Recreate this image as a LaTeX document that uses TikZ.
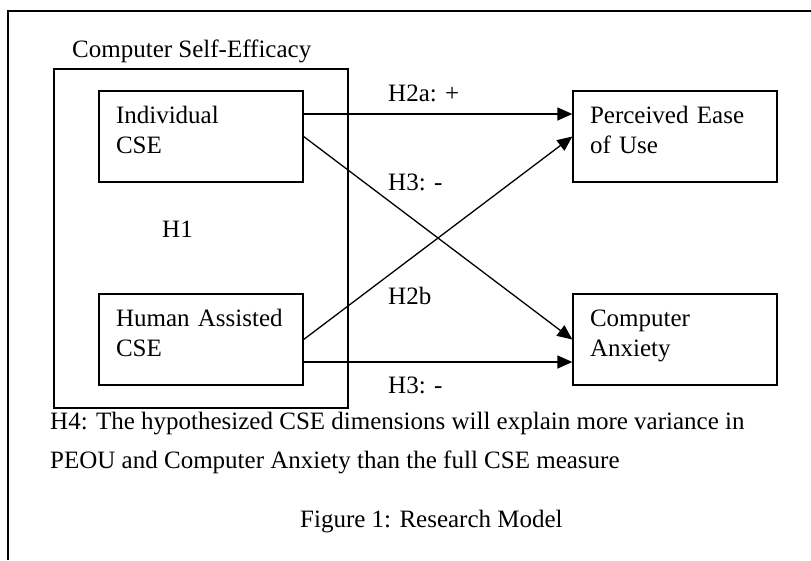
\documentclass[tikz,border=0pt]{standalone}
\usepackage{fontspec}
\setmainfont{Liberation Serif}
\usepackage{tikz}
\usetikzlibrary{positioning,arrows.meta}
\tikzset{
  cbox/.style={draw,line width=1.3pt,minimum width=204pt,minimum height=91pt,
            text width=170pt,inner xsep=17pt,align=left,
            text height=17pt,text depth=43pt,
            font=\fontsize{25}{30}\selectfont},
  group/.style={draw,line width=1.3pt,minimum width=294pt,minimum height=339pt},
  link/.style={-{Triangle[length=15pt,width=13pt]},line width=1.3pt},
  lbl/.style={anchor=base west,inner sep=0pt,font=\fontsize{25}{30}\selectfont},
}
\begin{document}
\begin{tikzpicture}[x=1pt,y=-1pt]
  \useasboundingbox (0,0) rectangle (811,560);
  % outer frame (only top and left edge show)
  \draw[line width=2pt] (7.5,560) -- (7.5,11) -- (811,11);
  % CSE group
  \node[group] (cse) at (201,238.5) {};
  \node[lbl] (csel) at (72,57) {Computer Self-Efficacy};
  \node[cbox] (ind) at (201,136.5) {Individual\\CSE};
  \node[cbox] (hum) at (201,339.5) {Human Assisted\\CSE};
  \node[lbl] (h1) at (162,237) {H1};
  % outcomes
  \node[cbox] (peou) at (675,136.5) {Perceived Ease\\of Use};
  \node[cbox] (anx) at (675,339.5) {Computer\\Anxiety};
  % paths
  \draw[link] ([yshift=22.5pt]ind.east) -- ([yshift=22.5pt]peou.west);
  \draw[link] (ind.east) -- (anx.west);
  \draw[link] (hum.east) -- (peou.west);
  \draw[link] ([yshift=-22.5pt]hum.east) -- ([yshift=-22.5pt]anx.west);
  \node[lbl] (h2a) at (388,101) {H2a: +};
  \node[lbl] (h3a) at (388,190) {H3: -};
  \node[lbl] (h2b) at (388,304) {H2b};
  \node[lbl] (h3b) at (388,393) {H3: -};
  % H4 and caption
  \node[lbl] (h4a) at (50,429) {H4: The hypothesized CSE dimensions will explain more variance in};
  \node[lbl] (h4b) at (50,468) {PEOU and Computer Anxiety than the full CSE measure};
  \node[lbl] (cap) at (300,527) {Figure 1: Research Model};
\end{tikzpicture}
\end{document}
